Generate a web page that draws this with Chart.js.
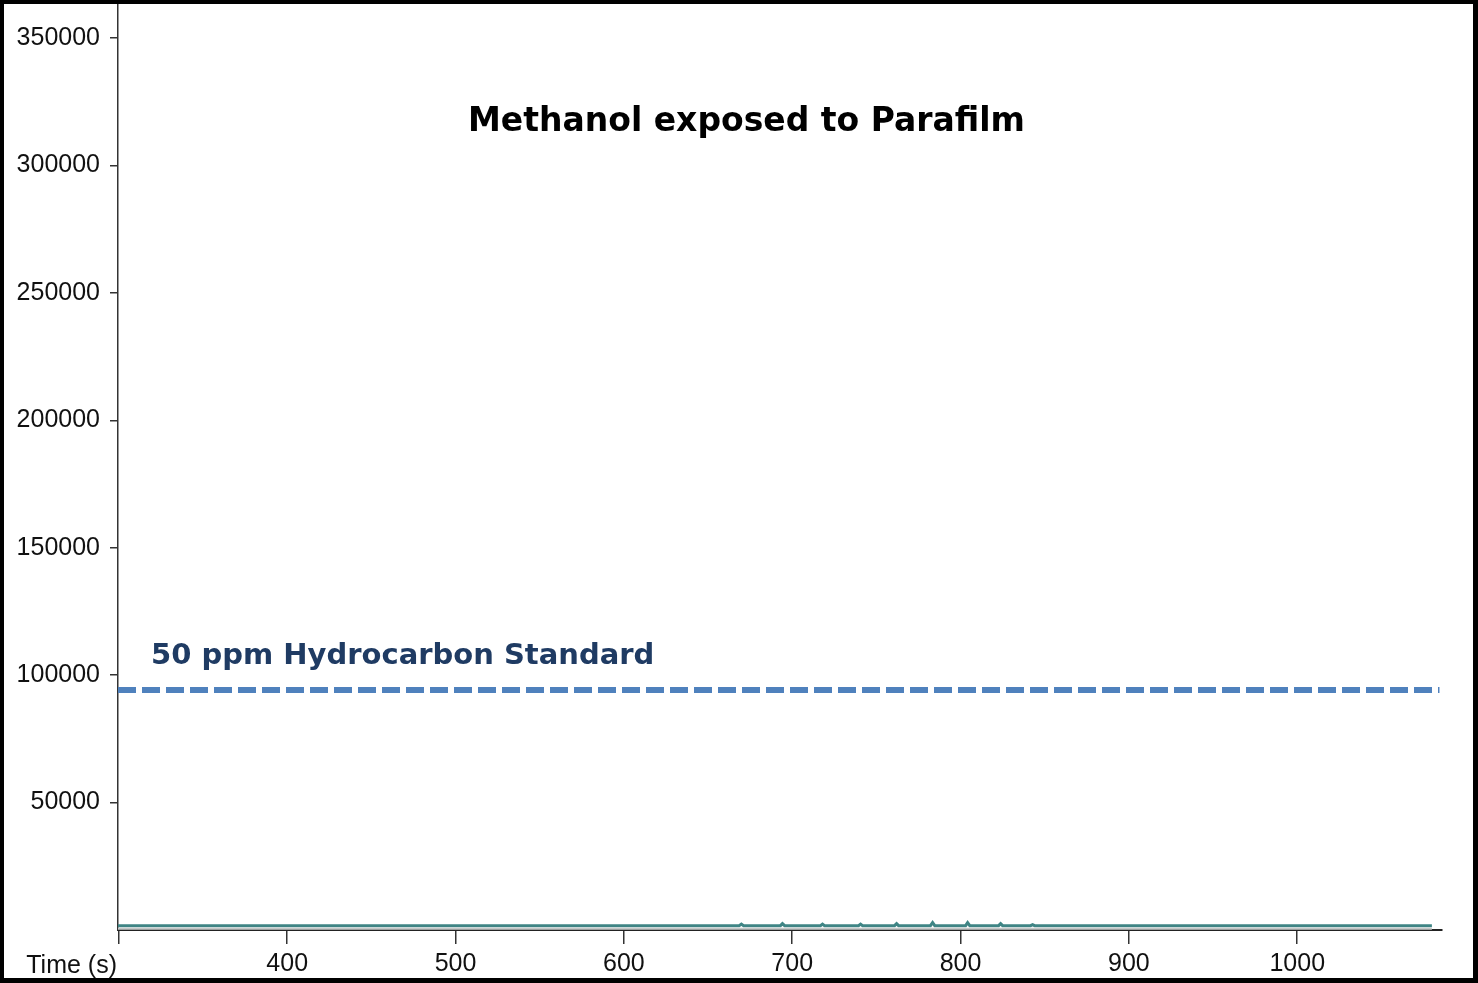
<!DOCTYPE html>
<html>
<head>
<meta charset="utf-8">
<title>Methanol exposed to Parafilm</title>
<script src="https://cdn.jsdelivr.net/npm/chart.js@4.4.1/dist/chart.umd.min.js"></script>
<style>
  html, body { margin: 0; padding: 0; background: #000; }
  body { width: 1478px; height: 983px; position: relative; overflow: hidden; }
  #wrap { position: absolute; left: 4px; top: 4px; width: 1469px; height: 974px; background: #fff; }
</style>
</head>
<body>
<div id="wrap"><canvas id="chart" width="1469" height="974"></canvas></div>
<script>
// valores (tempo em s, intensidade)
const traceTimes = [299.5, 668.5, 669.8, 671.1, 693, 694.2, 695.5, 716.8, 718.0, 719.2, 739.4, 740.6, 741.8,
  760.8, 762.0, 763.2, 782.1, 783.4, 784.7, 803.0, 804.2, 805.5, 822.6, 823.8, 825.0, 841.6, 842.8, 844.0, 1080];
const traceValues = [1700, 1700, 2300, 1700, 1700, 2500, 1700, 1700, 2300, 1700, 1700, 2300, 1700,
  1700, 2500, 1700, 1700, 2900, 1700, 1700, 2900, 1700, 1700, 2500, 1700, 1700, 2100, 1700, 1700];
const floorTimes = [299.5, 1080];
const floorValues = [500, 500];
const standardTimes = [299.5, 1084.5];
const standardValues = [94170, 94170];
const xTicks = [300, 400, 500, 600, 700, 800, 900, 1000];
const yTicks = [50000, 100000, 150000, 200000, 250000, 300000, 350000];

const titleText = 'Methanol exposed to Parafilm';
const standardText = '50 ppm Hydrocarbon Standard';
const xAxisText = 'Time (s)';

const tickFont = { family: "'Liberation Sans', Arial, sans-serif", size: 25 };

// textos desenhados por cima (título dentro da área, rótulo da linha e "Time (s)")
const textPlugin = {
  id: 'textos',
  afterDraw(chart) {
    const ctx = chart.ctx;
    ctx.save();
    ctx.textBaseline = 'alphabetic';
    ctx.fillStyle = '#000';
    ctx.font = "bold 33px 'DejaVu Sans', Verdana, sans-serif";
    ctx.textAlign = 'center';
    ctx.fillText(titleText, 742.5, 127);
    ctx.fillStyle = '#1f3b63';
    ctx.font = "bold 29px 'DejaVu Sans', Verdana, sans-serif";
    ctx.textAlign = 'left';
    ctx.fillText(standardText, 147, 660);
    ctx.fillStyle = '#111';
    ctx.font = "25px 'Liberation Sans', Arial, sans-serif";
    ctx.textAlign = 'right';
    ctx.fillText(xAxisText, 113, 969);
    ctx.restore();
  }
};

const toPoints = (xs, ys) => xs.map((x, i) => ({ x: x, y: ys[i] }));

// tira o espaço extra que o Chart.js reserva para os rótulos nas pontas
const noEdgePadding = (scale) => {
  scale.paddingTop = 0;
  scale.paddingBottom = 0;
  scale.paddingLeft = 0;
  scale.paddingRight = 0;
};

const ctx = document.getElementById('chart').getContext('2d');
new Chart(ctx, {
  type: 'line',
  data: {
    datasets: [
      {
        label: 'floor',
        data: toPoints(floorTimes, floorValues),
        borderColor: '#c4c8c8',
        borderWidth: 2,
        pointRadius: 0
      },
      {
        label: 'Methanol',
        data: toPoints(traceTimes, traceValues),
        borderColor: '#3f8585',
        borderWidth: 3,
        pointRadius: 0,
        tension: 0
      },
      {
        label: '50 ppm Hydrocarbon Standard',
        data: toPoints(standardTimes, standardValues),
        borderColor: '#4f81bd',
        borderWidth: 6,
        borderDash: [18, 6],
        borderCapStyle: 'butt',
        pointRadius: 0
      }
    ]
  },
  options: {
    responsive: false,
    animation: false,
    layout: { padding: { top: 0, right: 31, bottom: 0, left: 0 } },
    plugins: {
      legend: { display: false },
      tooltip: { enabled: false },
      title: { display: false }
    },
    scales: {
      x: {
        type: 'linear',
        min: 299.5,
        max: 1086,
        afterBuildTicks: (scale) => { scale.ticks = xTicks.map(v => ({ value: v })); },
        afterFit: (scale) => { scale.height = 48; noEdgePadding(scale); },
        ticks: {
          font: tickFont,
          color: '#111',
          padding: 5,
          maxRotation: 0,
          autoSkip: false,
          callback: (v) => (v === 300 ? '' : String(v))
        },
        grid: { drawOnChartArea: false, drawTicks: true, tickLength: 14, color: '#333', lineWidth: 1.5 },
        border: { display: true, color: '#222', width: 2 }
      },
      y: {
        type: 'linear',
        min: 0,
        max: 363340,
        afterBuildTicks: (scale) => { scale.ticks = yTicks.map(v => ({ value: v })); },
        afterFit: (scale) => { scale.width = 114; noEdgePadding(scale); },
        ticks: {
          font: tickFont,
          color: '#111',
          padding: 10,
          autoSkip: false,
          callback: (v) => String(v)
        },
        grid: { drawOnChartArea: false, drawTicks: true, tickLength: 8, color: '#333', lineWidth: 1.5 },
        border: { display: true, color: '#333', width: 1.5 }
      }
    }
  },
  plugins: [textPlugin]
});
</script>
</body>
</html>
